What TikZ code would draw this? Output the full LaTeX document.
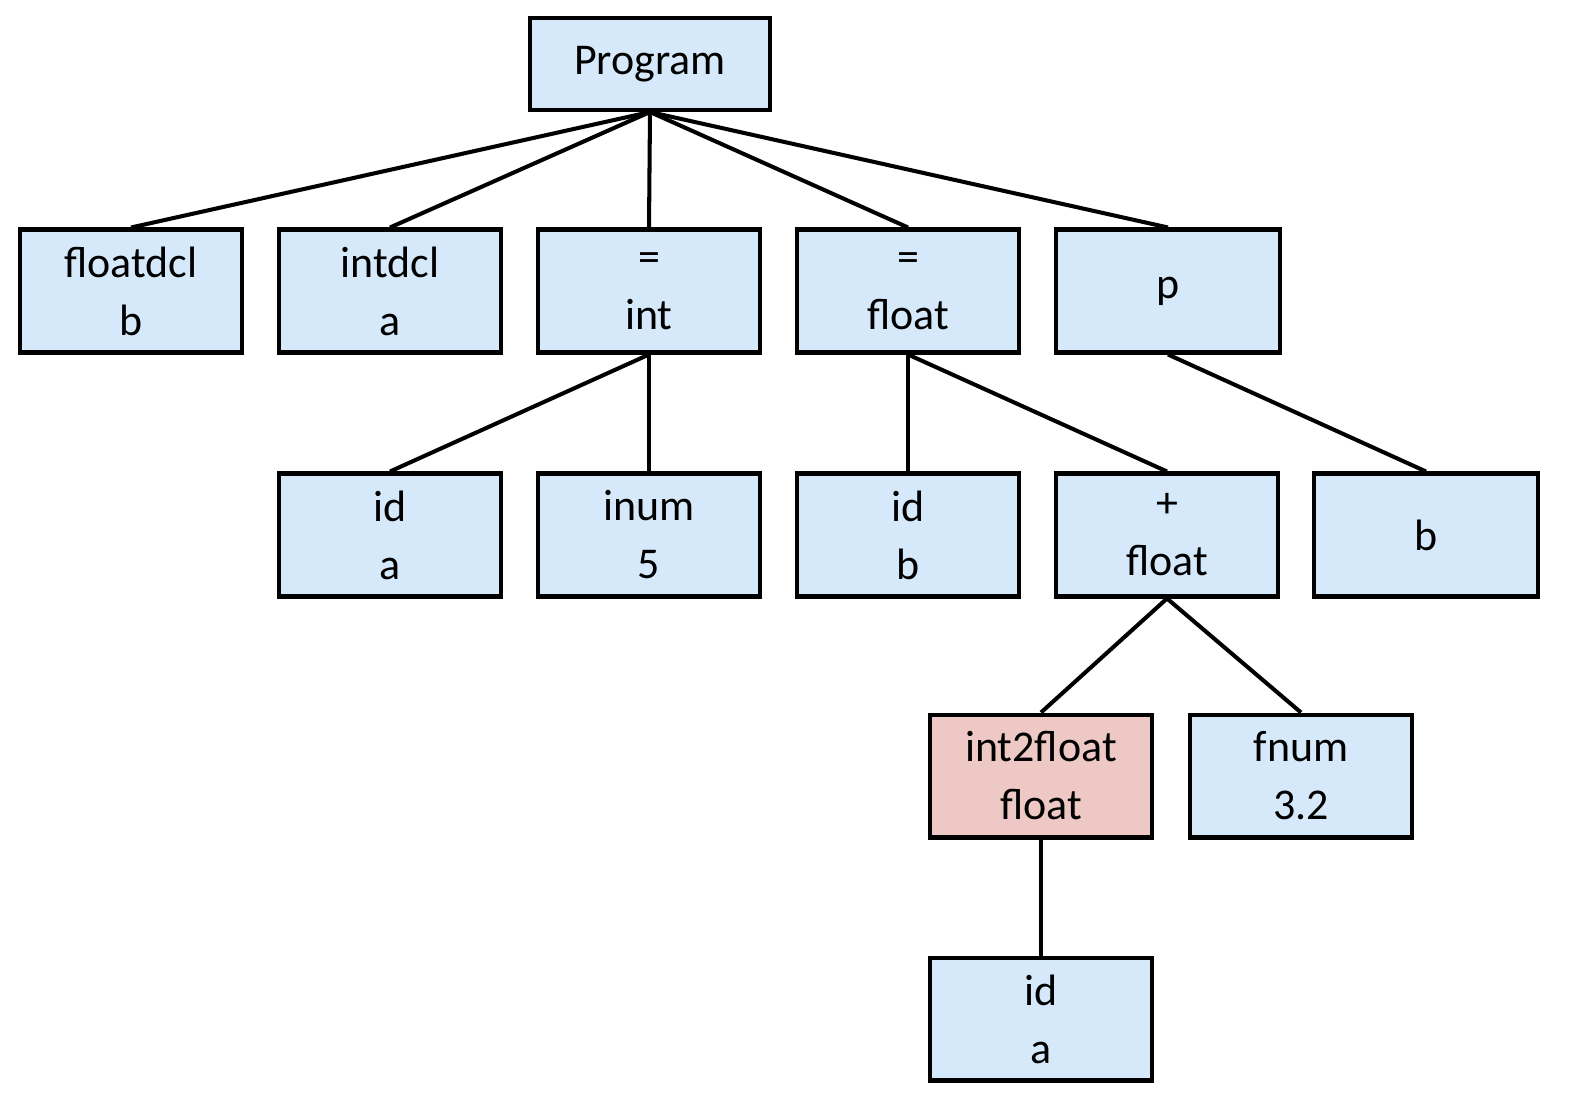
\documentclass[tikz,border=0pt]{standalone}
\usepackage{fontspec}
\setmainfont{Carlito}
\usepackage{xcolor}
\usetikzlibrary{positioning}
\definecolor{boxblue}{RGB}{213,233,250}
\definecolor{boxpink}{RGB}{237,200,197}
\tikzset{
  treenode/.style={draw, line width=2.3pt, fill=boxblue, minimum width=4.44cm, minimum height=2.46cm,
    align=center, inner sep=0pt, font=\fontsize{25}{33}\selectfont},
  edge/.style={line width=2.3pt}
}
\begin{document}
\begin{tikzpicture}[x=0.02cm, y=-0.02cm]
\useasboundingbox (0,0) rectangle (1576,1116);

\node[treenode, minimum width=4.8cm, minimum height=1.84cm] (program) at (650,64) {Program};

\node[treenode] (floatdcl) at (131,291) {floatdcl\\b};
\node[treenode] (intdcl) at (390,291) {intdcl\\a};
\node[treenode] (assign_int) at (649,291) {=\\int};
\node[treenode] (assign_float) at (908,291) {=\\float};
\node[treenode, minimum width=4.48cm] (print) at (1168,291) {p};

\node[treenode] (id_a) at (390,535) {id\\a};
\node[treenode] (inum) at (649,535) {inum\\5};
\node[treenode] (id_b) at (908,535) {id\\b};
\node[treenode] (plus) at (1167,535) {+\\float};
\node[treenode, minimum width=4.48cm] (print_b) at (1426,535) {b};

\node[treenode, fill=boxpink] (int2float) at (1041,776) {int2float\\float};
\node[treenode] (fnum) at (1301,776) {fnum\\3.2};

\node[treenode] (id_a2) at (1041,1019) {id\\a};

\draw[edge] (program.south) -- (floatdcl.north);
\draw[edge] (program.south) -- (intdcl.north);
\draw[edge] (program.south) -- (assign_int.north);
\draw[edge] (program.south) -- (assign_float.north);
\draw[edge] (program.south) -- (print.north);

\draw[edge] (assign_int.south) -- (id_a.north);
\draw[edge] (assign_int.south) -- (inum.north);
\draw[edge] (assign_float.south) -- (id_b.north);
\draw[edge] (assign_float.south) -- (plus.north);
\draw[edge] (print.south) -- (print_b.north);

\draw[edge] (plus.south) -- (int2float.north);
\draw[edge] (plus.south) -- (fnum.north);
\draw[edge] (int2float.south) -- (id_a2.north);

\end{tikzpicture}
\end{document}
